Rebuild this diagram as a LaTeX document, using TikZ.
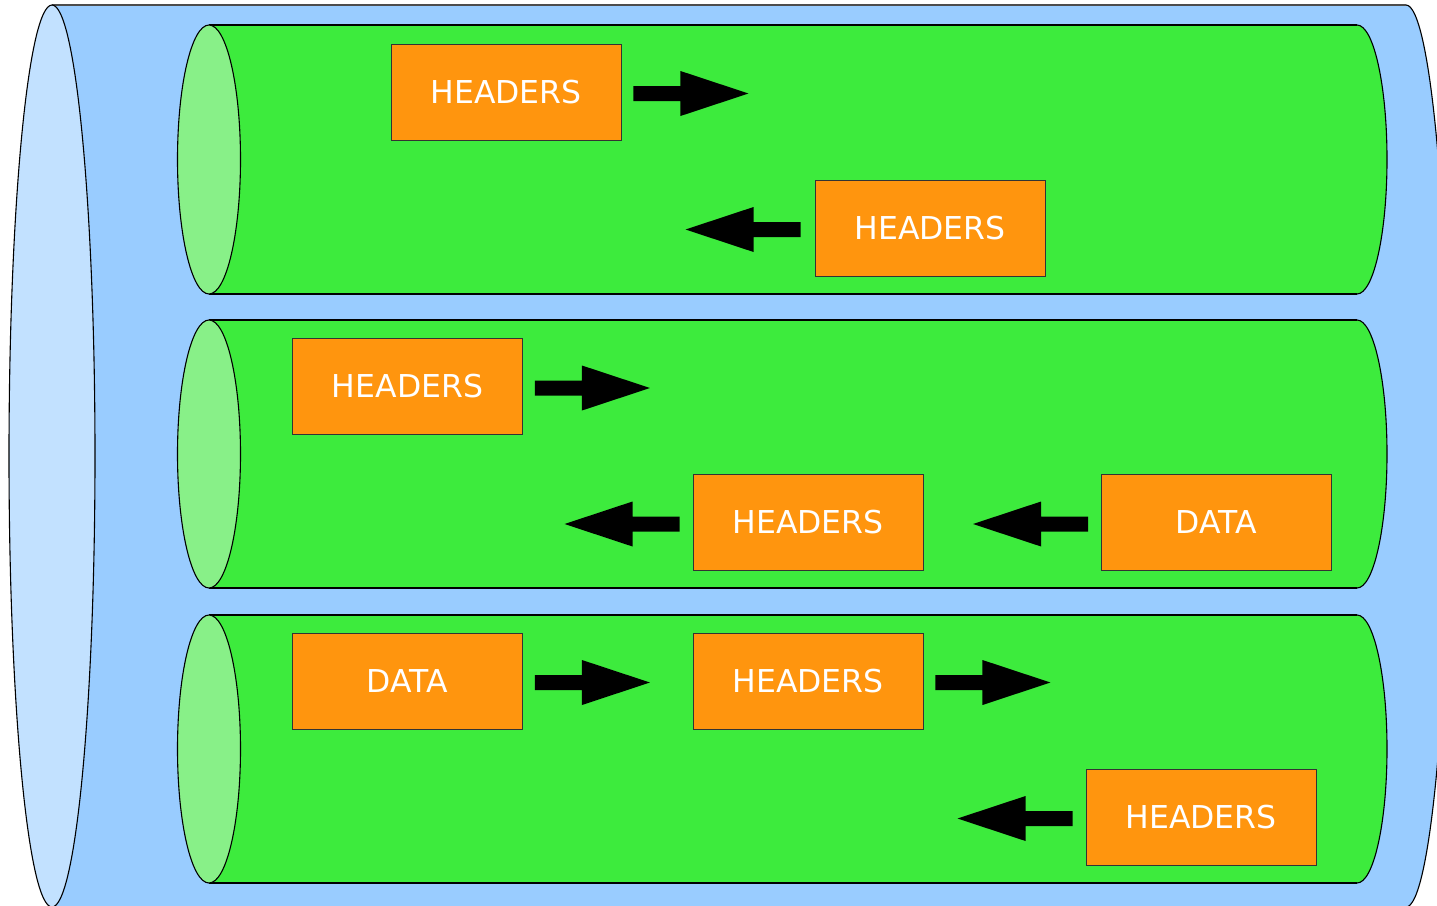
\documentclass[tikz,border=0pt]{standalone}
\usepackage{fontspec}
\setmainfont{DejaVu Sans}
\definecolor{bluebody}{RGB}{153,204,255}
\definecolor{blueface}{RGB}{194,225,255}
\definecolor{greenbody}{RGB}{61,235,61}
\definecolor{greenface}{RGB}{136,240,136}
\definecolor{boxorange}{RGB}{255,149,14}
\tikzset{
  outline/.style={draw=black, line width=1.1pt},
  box/.style={draw=black!80, line width=0.9pt, fill=boxorange, text=white,
    minimum width=230, minimum height=96, inner sep=0pt,
    font=\fontsize{31.5}{36}\selectfont},
  pics/blockarrow/.style={code={
    \fill[black] (0,-7.5) -- (47,-7.5) -- (47,-22.5) -- (115,0) -- (47,22.5) -- (47,7.5) -- (0,7.5) -- cycle;
  }}
}
\newcommand{\greencyl}[2]{%
  \pgfmathsetmacro{\gc}{(#1+#2)/2}%
  \pgfmathsetmacro{\gr}{(#2-#1)/2}%
  \fill[greenbody] (209,#1) rectangle (1357,#2);
  \fill[greenbody] (1357,\gc) ellipse (30 and \gr);
  \draw[outline] (209,#1) -- (1357,#1);
  \draw[outline] (209,#2) -- (1357,#2);
  \begin{scope}
    \clip (1357,#1-3) rectangle (1400,#2+3);
    \draw[outline] (1357,\gc) ellipse (30 and \gr);
  \end{scope}
  \filldraw[outline, fill=greenface] (209,\gc) ellipse (31.5 and \gr);
}
\begin{document}
\begin{tikzpicture}[x=1pt, y=-1pt]
\clip (0,0) rectangle (1437,905);
\fill[white] (0,0) rectangle (1437,905);
% big blue cylinder
\fill[bluebody] (52,5) rectangle (1406,910);
\fill[bluebody] (1406,456) ellipse (43 and 451);
\draw[outline, draw=black!70] (52,5) -- (1406,5);
\begin{scope}
  \clip (1406,0) rectangle (1460,910);
  \draw[outline] (1406,456) ellipse (43 and 451);
\end{scope}
\filldraw[outline, fill=blueface] (52,456) ellipse (43 and 451);
% green cylinders
\greencyl{25}{294}
\greencyl{320}{588}
\greencyl{615}{883}
% boxes
\node[box] (h1) at (506,92) {\raisebox{-1pt}{HEADERS}};
\node[box] (h2) at (930,228) {\raisebox{-1pt}{HEADERS}};
\node[box] (h3) at (407.5,386.5) {\raisebox{-1pt}{HEADERS}};
\node[box] (h4) at (808,522.5) {\raisebox{-1pt}{HEADERS}};
\node[box] (d1) at (1216.5,522.5) {\raisebox{-1pt}{DATA}};
\node[box] (d2) at (407.5,681) {\raisebox{-1pt}{DATA}};
\node[box] (h5) at (808,681) {\raisebox{-1pt}{HEADERS}};
\node[box] (h6) at (1201,817) {\raisebox{-1pt}{HEADERS}};
% arrows
\pic at ([xshift=12,yshift=-1.5]h1.east) {blockarrow};
\pic[xscale=-1] at ([xshift=-14,yshift=-1.5]h2.west) {blockarrow};
\pic at ([xshift=12,yshift=-1.5]h3.east) {blockarrow};
\pic[xscale=-1] at ([xshift=-13,yshift=-1.5]h4.west) {blockarrow};
\pic[xscale=-1] at ([xshift=-13,yshift=-1.5]d1.west) {blockarrow};
\pic at ([xshift=12,yshift=-1.5]d2.east) {blockarrow};
\pic at ([xshift=12,yshift=-1.5]h5.east) {blockarrow};
\pic[xscale=-1] at ([xshift=-13,yshift=-1.5]h6.west) {blockarrow};
\end{tikzpicture}
\end{document}
